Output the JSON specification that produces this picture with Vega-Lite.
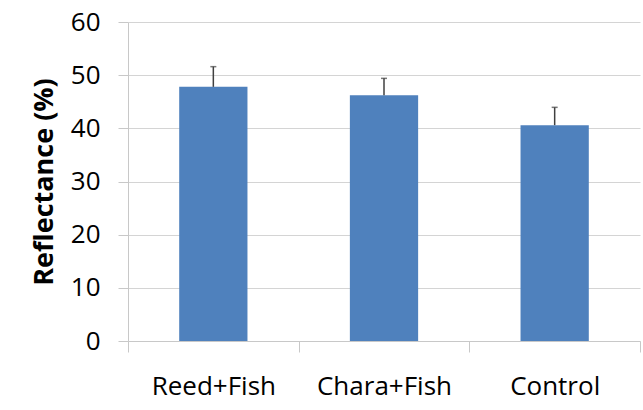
{
  "$schema": "https://vega.github.io/schema/vega-lite/v6.json",
  "autosize": {"type": "none"},
  "padding": {"left": 128, "top": 22, "right": 3, "bottom": 69},
  "width": 512,
  "height": 319,
  "background": "white",
  "data": {"values": [
    {"group": "Reed+Fish", "value": 47.8, "err": 3.8},
    {"group": "Chara+Fish", "value": 46.2, "err": 3.2},
    {"group": "Control", "value": 40.6, "err": 3.35}
  ]},
  "transform": [{"calculate": "datum.value + datum.err", "as": "upper"}],
  "encoding": {
    "x": {
      "field": "group", "type": "nominal", "sort": null,
      "scale": {"paddingInner": 0, "paddingOuter": 0},
      "axis": {
        "title": null, "labelAngle": 0, "labelFontSize": 26, "labelFont": "Open Sans",
        "labelColor": "#000000", "labelPadding": 21,
        "tickBand": "extent", "tickSize": 11, "tickColor": "#C8C8C8", "domainColor": "#C8C8C8",
        "grid": false
      }
    }
  },
  "layer": [
    {
      "mark": {"type": "bar", "color": "#4F81BD", "width": {"band": 0.4}},
      "encoding": {
        "y": {
          "field": "value", "type": "quantitative",
          "scale": {"domain": [0, 60], "nice": false},
          "axis": {
            "title": "Reflectance (%)", "titleFont": "Open Sans", "titleFontSize": 27, "titleFontWeight": "bold",
            "titleColor": "#000000", "titlePadding": 12,
            "values": [0, 10, 20, 30, 40, 50, 60], "labelFontSize": 26, "labelFont": "Open Sans",
            "labelColor": "#000000", "labelPadding": 18, "tickSize": 10, "tickColor": "#C8C8C8",
            "domainColor": "#C8C8C8", "gridColor": "#D4D4D4"
          }
        }
      }
    },
    {
      "mark": {"type": "rule", "color": "#404040", "strokeWidth": 1.5},
      "encoding": {"y": {"field": "value", "type": "quantitative"}, "y2": {"field": "upper"}}
    },
    {
      "mark": {"type": "tick", "color": "#404040", "thickness": 1.5, "size": 6},
      "encoding": {"y": {"field": "upper", "type": "quantitative"}}
    }
  ],
  "config": {"view": {"stroke": null}}
}
